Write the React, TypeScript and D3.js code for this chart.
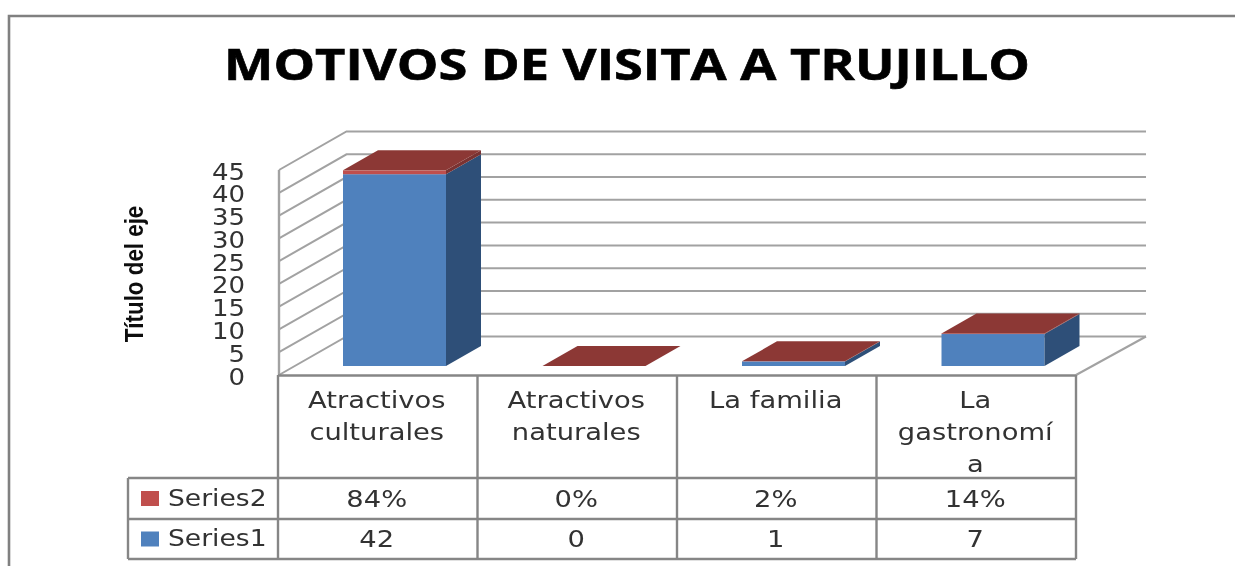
import React from "react";
import * as d3 from "d3";

const chartTitle = "MOTIVOS DE VISITA A TRUJILLO";
const axisTitle = "Título del eje";
const categories = ["Atractivos culturales", "Atractivos naturales", "La familia", "La gastronomía"];
const categoryLines = [["Atractivos", "culturales"], ["Atractivos", "naturales"], ["La familia"], ["La", "gastronomí", "a"]];
const series1 = [42, 0, 1, 7];
const series2 = [0.84, 0, 0.02, 0.14];
const series2Labels = ["84%", "0%", "2%", "14%"];
const series1Labels = ["42", "0", "1", "7"];
const ticks = [0, 5, 10, 15, 20, 25, 30, 35, 40, 45];

const GRID = "#a2a2a2";
const TABLE = "#868686";
const TEXT = "#333333";
const FONT = "'DejaVu Sans', sans-serif";

const x = d3.scaleBand<string>().domain(categories).range([278, 1076]).paddingInner(0).paddingOuter(0);
const y = d3.scaleLinear().domain([0, 45]).range([375, 170]);
const barH = d3.scaleLinear().domain([0, 45]).range([0, 205.5]);

const depthX = 67.5;
const depthY = -38.5;
const barDx = 35;
const barDy = -20;
const barBase = 366;
const barInset = 65;
const barWidth = 103;
const right = 1146;

const pts = (p: number[][]) => p.map((q) => q.join(",")).join(" ");

function Box({ x0, w, yBottom, h, front, side, top }: any) {
  const t = yBottom - h;
  return (
    <g>
      {h > 0.01 && <rect x={x0} y={t} width={w} height={h} fill={front} />}
      {h > 0.01 && (
        <polygon
          points={pts([[x0 + w, t], [x0 + w + barDx, t + barDy], [x0 + w + barDx, yBottom + barDy], [x0 + w, yBottom]])}
          fill={side}
        />
      )}
      {top && (
        <polygon points={pts([[x0, t], [x0 + barDx, t + barDy], [x0 + w + barDx, t + barDy], [x0 + w, t]])} fill={top} />
      )}
    </g>
  );
}

function Wide({ x: px, y: py, anchor = "middle", sx = 1.19, children }: any) {
  return (
    <text transform={`translate(${px},${py}) scale(${sx},1)`} textAnchor={anchor} fontFamily={FONT} fontSize={23} fill={TEXT}>
      {children}
    </text>
  );
}

export default function App() {
  const rowA = 478;
  const rowB = 519;
  const rowC = 559;
  const tableLeft = 128;
  const edges = [...categories.map((c) => x(c) as number), 1076];
  return (
    <svg
      width={1235}
      height={566}
      viewBox="0 0 1235 566"
      style={{ position: "absolute", left: 0, top: 0, background: "#fff" }}
    >
      <defs>
        <filter id="soft" x="-2%" y="-2%" width="104%" height="104%">
          <feGaussianBlur stdDeviation="0.65" />
        </filter>
      </defs>
      <g filter="url(#soft)">
        <path d="M9,566 V16 H1235" fill="none" stroke="#808080" strokeWidth={2.6} />
        <text x={627} y={80} textAnchor="middle" fontFamily="'Open Sans', sans-serif" fontWeight={700} fontSize={42.5} fill="#000"
          stroke="#000" strokeWidth={0.6} textLength={806} lengthAdjust="spacingAndGlyphs">{chartTitle}</text>

        {/* walls and floor */}
        {ticks.map((t) => (
          <polyline key={t} fill="none" stroke={GRID} strokeWidth={2}
            points={pts([[279, y(t)], [279 + depthX, y(t) + depthY], [right, y(t) + depthY]])} />
        ))}
        <line x1={279} x2={279} y1={y(45)} y2={375} stroke={GRID} strokeWidth={2.4} />
        <polyline fill="none" stroke={GRID} strokeWidth={2} points={pts([[1076, 375], [right, 375 + depthY]])} />

        {/* bars */}
        {categories.map((c, i) => {
          const x0 = (x(c) as number) + barInset;
          const h1 = barH(series1[i]);
          const h2 = barH(series2[i]);
          return (
            <g key={c}>
              <Box x0={x0} w={barWidth} yBottom={barBase} h={h1} front="#4f81bd" side="#2f5078" />
              <Box x0={x0} w={barWidth} yBottom={barBase - h1} h={h2} front="#c0504d" side="#7a3331" top="#8c3836" />
            </g>
          );
        })}

        {/* y axis */}
        {ticks.map((t) => (
          <text key={t} transform={`translate(245,${y(t) + 9.5}) scale(1.13,1)`} textAnchor="end" fontFamily={FONT} fontSize={23} fill={TEXT}>{t}</text>
        ))}
        <text transform="translate(143,274) rotate(-90) scale(0.86,1)" textAnchor="middle" fontFamily="'Liberation Sans', sans-serif"
          fontWeight={700} fontSize={26} fill="#111">{axisTitle}</text>

        {/* data table */}
        <line x1={278} x2={1076} y1={375.5} y2={375.5} stroke={TABLE} strokeWidth={2.4} />
        <line x1={tableLeft} x2={1076} y1={rowA} y2={rowA} stroke={TABLE} strokeWidth={2.4} />
        <line x1={tableLeft} x2={1076} y1={rowB} y2={rowB} stroke={TABLE} strokeWidth={2.4} />
        <line x1={tableLeft} x2={1076} y1={rowC} y2={rowC} stroke={TABLE} strokeWidth={2.4} />
        <line x1={tableLeft} x2={tableLeft} y1={rowA} y2={rowC} stroke={TABLE} strokeWidth={2.4} />
        {edges.map((e) => (
          <line key={e} x1={e} x2={e} y1={375} y2={rowC} stroke={TABLE} strokeWidth={2.4} />
        ))}
        {categories.map((c, i) => {
          const cx = (x(c) as number) + (x.bandwidth() / 2);
          return (
            <g key={c}>
              {categoryLines[i].map((line, j) => (
                <Wide key={j} x={cx - 1} y={408 + j * 32}>{line}</Wide>
              ))}
              <Wide x={cx - 1} y={507}>{series2Labels[i]}</Wide>
              <Wide x={cx - 1} y={547}>{series1Labels[i]}</Wide>
            </g>
          );
        })}
        <rect x={141} y={491} width={18} height={15} fill="#c0504d" />
        <rect x={141} y={531.5} width={18} height={15} fill="#4f81bd" />
        <Wide x={168} y={506} anchor="start" sx={1.155}>Series2</Wide>
        <Wide x={168} y={546} anchor="start" sx={1.155}>Series1</Wide>
      </g>
    </svg>
  );
}
